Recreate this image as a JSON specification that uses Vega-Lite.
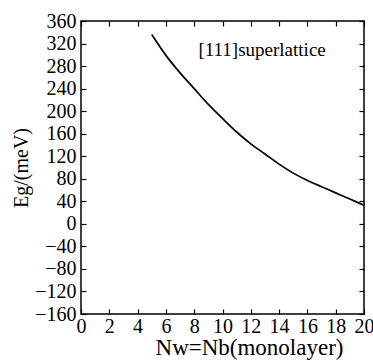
{
  "$schema": "https://vega.github.io/schema/vega-lite/v6.json",
  "width": 283,
  "height": 293,
  "autosize": {"type": "none"},
  "padding": {"left": 81, "top": 21, "right": 9, "bottom": 47},
  "config": {
    "view": {"stroke": "black", "strokeWidth": 1.5},
    "font": "Liberation Serif",
    "axis": {
      "grid": false,
      "domain": false,
      "tickColor": "black",
      "tickSize": -5,
      "tickWidth": 1.2,
      "labelFont": "Liberation Serif",
      "labelFontSize": 20,
      "labelColor": "black",
      "titleFont": "Liberation Serif",
      "titleFontWeight": "normal",
      "titleColor": "black"
    }
  },
  "datasets": {
    "curve": [
      {"n": 5, "eg": 336},
      {"n": 6, "eg": 299},
      {"n": 7, "eg": 268},
      {"n": 8, "eg": 240},
      {"n": 9, "eg": 212},
      {"n": 10, "eg": 187},
      {"n": 11, "eg": 163},
      {"n": 12, "eg": 142},
      {"n": 13, "eg": 124},
      {"n": 14, "eg": 106},
      {"n": 15, "eg": 90},
      {"n": 16, "eg": 77},
      {"n": 17, "eg": 66},
      {"n": 18, "eg": 55},
      {"n": 19, "eg": 44},
      {"n": 20, "eg": 33}
    ],
    "note": [{"n": 8.3, "eg": 309, "label": "[111]superlattice"}]
  },
  "resolve": {"axis": {"x": "independent", "y": "independent"}},
  "layer": [
    {
      "data": {"name": "curve"},
      "mark": {"type": "line", "color": "black", "strokeWidth": 1.7, "interpolate": "monotone"},
      "encoding": {
        "x": {
          "field": "n", "type": "quantitative",
          "scale": {"domain": [0, 20], "nice": false},
          "axis": {"values": [0, 2, 4, 6, 8, 10, 12, 14, 16, 18, 20], "title": "Nw=Nb(monolayer)", "titleFontSize": 23, "titleX": 168, "labelPadding": 7, "titlePadding": 0, "labelFlush": false}
        },
        "y": {
          "field": "eg", "type": "quantitative",
          "scale": {"domain": [-160, 360], "nice": false, "zero": false},
          "axis": {"values": [-160, -120, -80, -40, 0, 40, 80, 120, 160, 200, 240, 280, 320, 360], "title": "Eg/(meV)", "titleFontSize": 20, "labelPadding": 10, "titlePadding": 3, "labelFlush": false}
        }
      }
    },
    {
      "data": {"name": "note"},
      "mark": {"type": "text", "align": "left", "baseline": "middle", "fontSize": 19, "font": "Liberation Serif", "color": "black"},
      "encoding": {
        "x": {"field": "n", "type": "quantitative", "axis": {"orient": "top", "values": [0, 2, 4, 6, 8, 10, 12, 14, 16, 18, 20], "labels": false, "title": null}},
        "y": {"field": "eg", "type": "quantitative", "axis": {"orient": "right", "values": [-160, -120, -80, -40, 0, 40, 80, 120, 160, 200, 240, 280, 320, 360], "labels": false, "title": null}},
        "text": {"field": "label"}
      }
    }
  ]
}
